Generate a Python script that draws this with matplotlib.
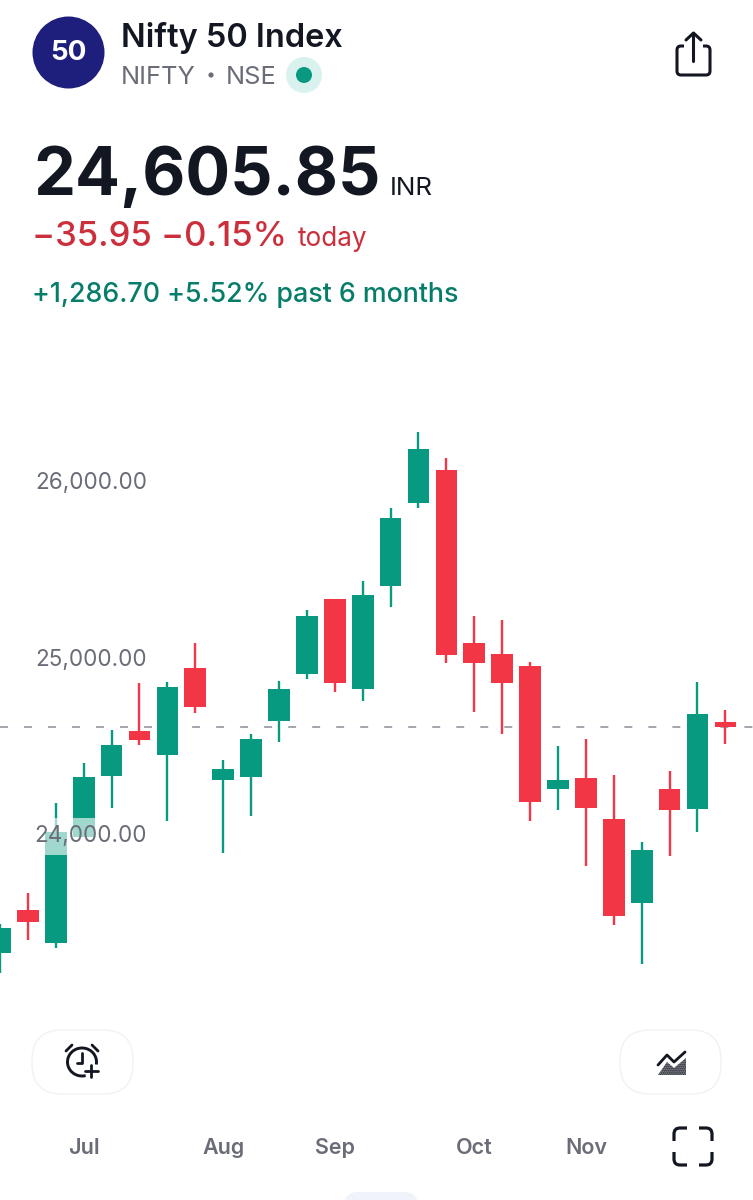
import matplotlib
matplotlib.use("Agg")
import matplotlib.pyplot as plt
from matplotlib.patches import Circle, Arc, FancyBboxPatch, Polygon, PathPatch
from matplotlib.path import Path

plt.rcParams['font.family'] = ['Inter', 'DejaVu Sans']
plt.rcParams['hatch.linewidth'] = 0.9

# candles
opens = [23324, 23569, 23384, 23983, 24330, 24585, 24448, 24942, 24304, 24325, 24638, 24906, 25333, 24823,
         25407, 25874, 26061, 25084, 25021, 24953, 24255, 24317, 24085, 23607, 24253, 24142, 24633]
closes = [23466, 23503, 24011, 24325, 24502, 24531, 24833, 24719, 24366, 24540, 24821, 25235, 24854, 25356,
          25792, 26180, 25016, 24967, 24857, 24183, 24306, 24149, 23535, 23908, 24134, 24678, 24606]
highs = [23490, 23664, 24176, 24402, 24589, 24857, 24859, 25080, 24419, 24565, 24867, 25269, 25333, 25432,
         25849, 26276, 26132, 25235, 25212, 24976, 24499, 24536, 24334, 23956, 24355, 24859, 24702]
lows = [23212, 23399, 23354, 23983, 24147, 24504, 24075, 24687, 23894, 24104, 24523, 24876, 24804, 24755,
        25284, 25849, 24967, 24693, 24568, 24075, 24136, 23819, 23484, 23265, 23877, 24013, 24512]
last_price = 24605.85

month_pos = [3, 8, 12, 17, 21]
month_labels = ['Jul', 'Aug', 'Sep', 'Oct', 'Nov']
price_ticks = [24000, 25000, 26000]

GREEN = '#089981'
RED = '#F23645'
DARK = '#131722'
GREY = '#6A6D78'

W, H = 753, 1200
fig = plt.figure(figsize=(W / 100, H / 100), dpi=100, facecolor='white')

# chart axes, runs from y=400 to y=1130 in image pixels
ax = fig.add_axes([0, (H - 1130) / H, 1, 730 / H])
xs = list(range(len(opens)))
cols = [GREEN if c >= o else RED for o, c in zip(opens, closes)]
ax.axhline(last_price, color='#9C9EA6', lw=1.3, dashes=(4.4, 8.9), zorder=0.5)
ax.vlines(xs, lows, highs, colors=cols, lw=1.7, zorder=1)
ax.bar(xs, [abs(c - o) for o, c in zip(opens, closes)], bottom=[min(o, c) for o, c in zip(opens, closes)],
       width=0.78, color=cols, zorder=1.2)
ax.set_xlim(0, W / 27.9)
ax.set_ylim(26000 - 649 * 5.666, 26000 + 81 * 5.666)
ax.set_xticks(month_pos, month_labels)
ax.set_yticks(price_ticks, [f'{v:,.2f}' for v in price_ticks])
ax.tick_params(axis='x', length=0, pad=6, labelsize=15.5, labelcolor=GREY)
ax.tick_params(axis='y', length=0, direction='in', pad=-105.8, labelsize=16.2, labelcolor=GREY)
for lab in ax.get_xticklabels():
    lab.set_fontweight('semibold')
for lab in ax.get_yticklabels():
    lab.set_bbox(dict(boxstyle='square,pad=0.32', fc='white', ec='none', alpha=0.62))
ax.set_axisbelow(False)
for s in ax.spines.values():
    s.set_visible(False)
ax.patch.set_alpha(0)

# overlay in image pixels for the app chrome
ui = fig.add_axes([0, 0, 1, 1])
ui.set_xlim(0, W)
ui.set_ylim(H, 0)
ui.axis('off')
ui.patch.set_alpha(0)

ui.add_patch(Circle((68.5, 52.5), 36, fc='#1E1F7C', ec='none'))
ui.text(68.5, 53, '50', color='white', fontsize=20, fontweight='bold', ha='center', va='center')
ui.text(121, 47, 'Nifty 50 Index', color=DARK, fontsize=23.4, fontweight='semibold')
ui.text(121, 84, 'NIFTY', color=GREY, fontsize=18.3)
ui.add_patch(Circle((211, 75), 2.6, fc=GREY, ec='none'))
ui.text(226, 84, 'NSE', color=GREY, fontsize=18.3)
ui.add_patch(Circle((304, 75), 18, fc='#DAF2EE', ec='none'))
ui.add_patch(Circle((304, 75), 8, fc=GREEN, ec='none'))

ui.text(33, 195, '24,605.85', color=DARK, fontsize=47.9, fontweight='bold')
ui.text(390, 195, 'INR', color=DARK, fontsize=18.7)
ui.text(32.5, 246, '\u221235.95 \u22120.15%', color='#CC2F3C', fontsize=25, fontweight='medium')
ui.text(298, 246, 'today', color='#CC2F3C', fontsize=18.8)
ui.text(32, 302, '+1,286.70 +5.52% past 6 months', color='#067D68', fontsize=19.3, fontweight='medium')


def stroke(pts, lw=2.2, color=DARK):
    ui.plot([p[0] for p in pts], [p[1] for p in pts], color=color, lw=lw, solid_capstyle='round',
            solid_joinstyle='round')


def corner(x0, y0, dx, dy, r=6, arm=13, lw=2.3):
    # one rounded bracket of the expand icon
    verts = [(x0 + dx * arm, y0), (x0 + dx * r, y0), (x0, y0), (x0, y0 + dy * r), (x0, y0 + dy * arm)]
    codes = [Path.MOVETO, Path.LINETO, Path.CURVE3, Path.CURVE3, Path.LINETO]
    ui.add_patch(PathPatch(Path(verts, codes), fc='none', ec=DARK, lw=lw, capstyle='butt'))


# share icon
verts = [(684, 46), (681, 46), (677, 46), (677, 50), (677, 71), (677, 75), (681, 75), (706, 75), (710, 75),
         (710, 71), (710, 50), (710, 46), (706, 46), (703, 46)]
codes = [Path.MOVETO, Path.LINETO, Path.CURVE3, Path.CURVE3, Path.LINETO, Path.CURVE3, Path.CURVE3, Path.LINETO,
         Path.CURVE3, Path.CURVE3, Path.LINETO, Path.CURVE3, Path.CURVE3, Path.LINETO]
ui.add_patch(PathPatch(Path(verts, codes), fc='none', ec=DARK, lw=2.2))
stroke([(693.5, 33), (693.5, 61)])
stroke([(686, 40), (693.5, 33), (701, 40)])

# buttons
for bx in (32, 620):
    ui.add_patch(FancyBboxPatch((bx + 30, 1060), 41, 4, boxstyle='round,pad=30,rounding_size=30',
                                fc='white', ec='#F1F2F5', lw=1))

# alarm icon, the arc leaves a gap lower right for the plus
ui.add_patch(Arc((82, 1062), 29, 28, theta1=75, theta2=10, ec=DARK, lw=2.1))
stroke([(82, 1053), (82, 1063), (77, 1063)], lw=2)
stroke([(66, 1051), (72, 1045)], lw=2)
stroke([(92, 1045), (98, 1051)], lw=2)
stroke([(91, 1065), (91, 1077)], lw=2)
stroke([(85, 1071), (98, 1071)], lw=2)

# indicators icon
stroke([(658, 1065), (667, 1055), (674, 1062), (685, 1052)], lw=2)
ui.add_patch(Polygon([(658, 1075), (667, 1062), (674, 1068), (686, 1058), (686, 1075)], closed=True, fc='#8A8C92',
                     ec=DARK, lw=0, hatch='........'))

# expand icon
corner(674, 1128, 1, 1)
corner(712, 1128, -1, 1)
corner(674, 1165, 1, -1)
corner(712, 1165, -1, -1)

# sheet handle at the very bottom
ui.add_patch(FancyBboxPatch((358, 1206), 46, 4, boxstyle='round,pad=14,rounding_size=14', fc='#F0F3FA', ec='none'))

fig.savefig('out.png', dpi=100)
